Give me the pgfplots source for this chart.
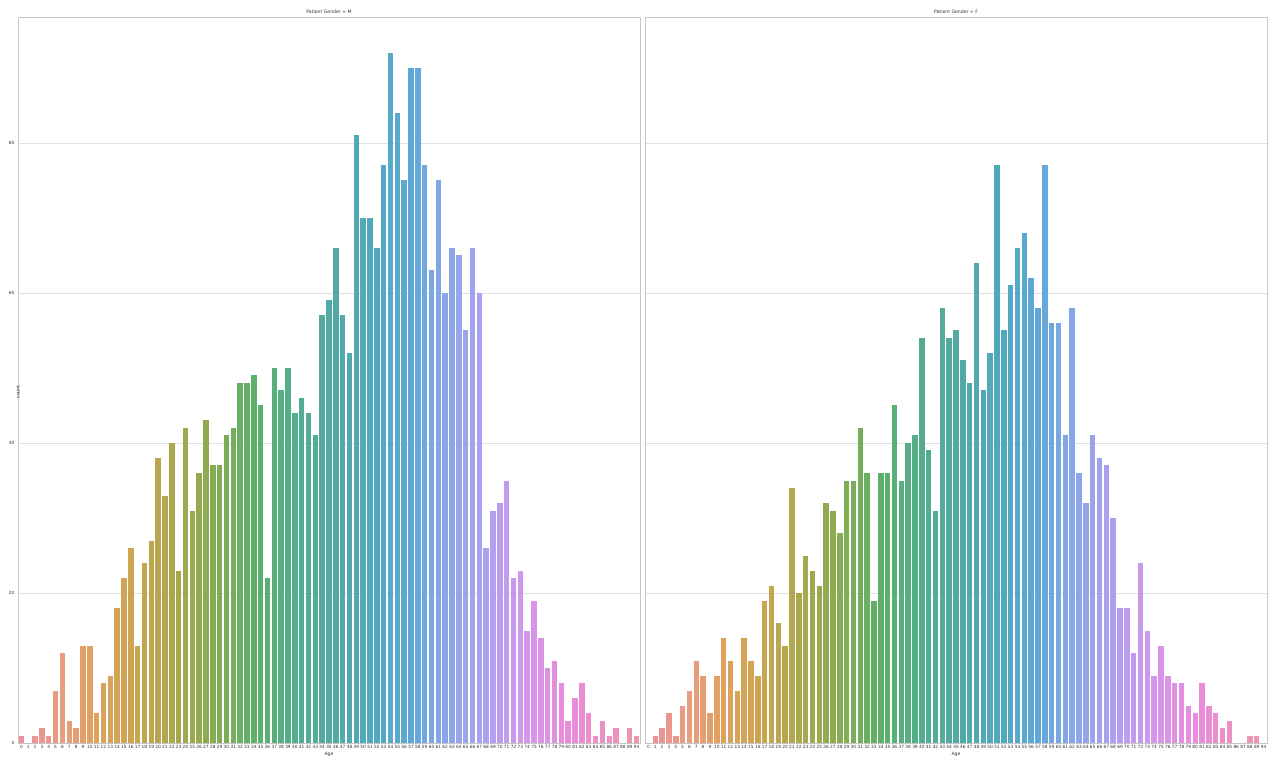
\documentclass[border=0pt]{standalone}
\usepackage{pgfplots}
\usepackage{pgfplotstable}
\pgfplotsset{compat=1.18}
\usepackage{fontspec}
\setmainfont{DejaVu Sans}

\pgfplotstableread{
age m f
0 1 0
1 0 1
2 1 2
3 2 4
4 1 1
5 7 5
6 12 7
7 3 11
8 2 9
9 13 4
10 13 9
11 4 14
12 8 11
13 9 7
14 18 14
15 22 11
16 26 9
17 13 19
18 24 21
19 27 16
20 38 13
21 33 34
22 40 20
23 23 25
24 42 23
25 31 21
26 36 32
27 43 31
28 37 28
29 37 35
30 41 35
31 42 42
32 48 36
33 48 19
34 49 36
35 45 36
36 22 45
37 50 35
38 47 40
39 50 41
40 44 54
41 46 39
42 44 31
43 41 58
44 57 54
45 59 55
46 66 51
47 57 48
48 52 64
49 81 47
50 70 52
51 70 77
52 66 55
53 77 61
54 92 66
55 84 68
56 75 62
57 90 58
58 90 77
59 77 56
60 63 56
61 75 41
62 60 58
63 66 36
64 65 32
65 55 41
66 66 38
67 60 37
68 26 30
69 31 18
70 32 18
71 35 12
72 22 24
73 23 15
74 15 9
75 19 13
76 14 9
77 10 8
78 11 8
79 8 5
80 3 4
81 6 8
82 8 5
83 4 4
84 1 2
85 3 3
86 1 0
87 2 0
88 0 1
89 2 1
94 1 0
}\data

\pgfplotsset{colormap={huslmap}{
  rgb255(0pt)=(234,146,158)
  rgb255(6pt)=(232,156,128)
  rgb255(11pt)=(222,162,92)
  rgb255(17pt)=(200,165,80)
  rgb255(23pt)=(165,168,78)
  rgb255(28pt)=(135,172,82)
  rgb255(34pt)=(92,176,106)
  rgb255(40pt)=(84,173,142)
  rgb255(46pt)=(82,170,166)
  rgb255(52pt)=(82,168,192)
  rgb255(57pt)=(94,168,216)
  rgb255(62pt)=(138,166,232)
  rgb255(68pt)=(174,160,240)
  rgb255(74pt)=(212,150,235)
  rgb255(80pt)=(233,140,220)
  rgb255(86pt)=(236,145,192)
  rgb255(90pt)=(236,150,172)
}}
\pgfplotsforeachungrouped \i in {0,...,90}{%
  \pgfmathtruncatemacro\cmv{\i/90*1000}%
  \pgfplotscolormapdefinemappedcolor{\cmv}%
  \edef\tmp{\noexpand\colorlet{bar\i}{mapped color}}\tmp
}

\pgfplotsset{
  panel/.style={
    width=622pt, height=726pt, scale only axis,
    xmin=-0.5, xmax=90.5, ymin=0, ymax=96.8,
    xtick={0,...,90},
    xticklabels from table={\data}{age},
    ytick={0,20,40,60,80},
    ymajorgrids,
    grid style={draw=black!12, line width=0.8pt},
    axis line style={draw=black!22, line width=0.8pt},
    major tick length=0pt,
    tick label style={font=\fontsize{4.3}{5}\selectfont, text=black!80},
    /pgf/number format/assume math mode=true,
    xticklabel style={yshift=1.2pt},
    every axis title/.style={at={(axis description cs:0.5,1)}, anchor=center, yshift=5pt, font=\fontsize{4.6}{5.5}\selectfont, text=black!80},
    every axis x label/.style={at={(axis description cs:0.5,0)}, anchor=center, yshift=-11.5pt, font=\fontsize{4.6}{5.5}\selectfont, text=black!80},
    every axis y label/.style={at={(axis description cs:0,0.5)}, rotate=90, anchor=center, xshift=-12pt, font=\fontsize{4.6}{5.5}\selectfont, text=black!80},
    xlabel={Age},
  }
}

\begin{document}
\begin{tikzpicture}
\useasboundingbox (-18pt,-15pt) rectangle (1253pt,743pt);
\begin{axis}[panel, at={(0pt,0pt)}, anchor=south west, title={Patient Gender = M}, ylabel={count}]
\pgfplotsinvokeforeach{0,...,90}{
  \addplot[ybar, bar shift=0pt, bar width=0.8, fill=bar#1, draw=none]
    table[x expr=\coordindex, y=m, restrict expr to domain={\coordindex}{#1:#1}]{\data};
}
\end{axis}
\begin{axis}[panel, at={(627pt,0pt)}, anchor=south west, title={Patient Gender = F}, yticklabels={}]
\pgfplotsinvokeforeach{0,...,90}{
  \addplot[ybar, bar shift=0pt, bar width=0.8, fill=bar#1, draw=none]
    table[x expr=\coordindex, y=f, restrict expr to domain={\coordindex}{#1:#1}]{\data};
}
\end{axis}
\end{tikzpicture}
\end{document}
